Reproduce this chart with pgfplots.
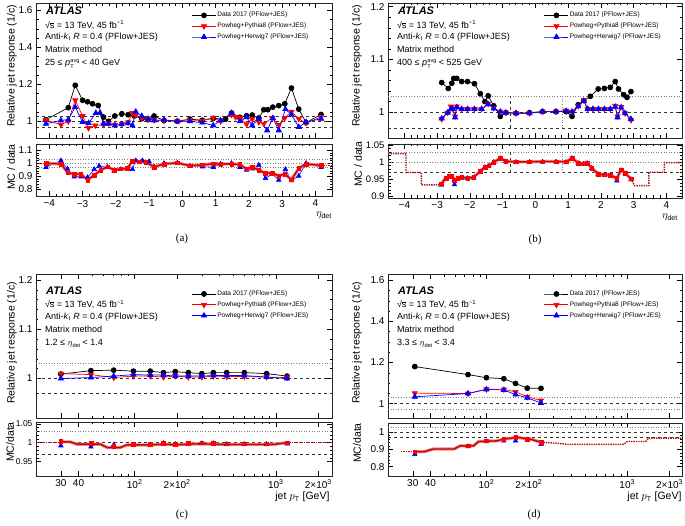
\documentclass[border=0pt]{standalone}
\usepackage{pgfplots}
\pgfplotsset{compat=1.18}
\usepackage{fontspec}
\setmainfont{Liberation Sans}
\newfontfamily\capfont{Liberation Serif}
\definecolor{dred}{rgb}{0.68,0.05,0.05}
\definecolor{lred}{rgb}{1,0.5,0.5}
\newcommand{\smallt}[1]{{\fontsize{5.5}{6}\selectfont #1}}
\newcommand{\ptavg}{\textit{p}\kern0.3pt\rlap{\raisebox{-2.3pt}{\smallt{T}}}\raisebox{3.7pt}{\smallt{avg}}}
\newcommand{\etadet}{$\eta$\raisebox{-1.8pt}{\smallt{det}}}
\newcommand{\sqrts}{√\kern-0.3pt\vbox{\hrule height 0.45pt\kern0.5pt\hbox{s}}}
\tikzset{
  ref1/.style={gray, dotted, line width=0.6pt},
  ref0/.style={black!80, dashed, line width=0.5pt},
}
\pgfplotsset{
  atl/.style={scale only axis, anchor=south west, tick align=inside,
    major tick length=5pt, minor tick length=2.5pt,
    every tick/.style={black, line width=0.4pt},
    axis line style={line width=0.6pt, black!85},
    tick label style={font=\fontsize{10}{12}\selectfont},
    /pgf/number format/assume math mode=true},
  leg/.style={legend style={at={#1}, anchor=north west, draw=none, fill=none,
    font=\fontsize{6.5}{7.5}\selectfont, row sep=2.6pt, nodes={inner sep=1pt}},
    legend cell align=left,
    legend image code/.code={\draw[mark repeat=2,mark phase=2,##1] plot coordinates {(0pt,0pt) (12pt,0pt) (24pt,0pt)};}},
  dat/.style={black, line width=0.7pt, mark=*, mark size=2.5pt},
  pyt/.style={red, line width=0.7pt, mark=triangle*, mark size=3pt, mark options={rotate=180}},
  her/.style={blue, line width=0.7pt, mark=triangle*, mark size=3pt},
  rpy/.style={red, only marks, mark=square*, mark size=1.8pt, forget plot},
  rhe/.style={blue, line width=0.6pt, mark=triangle*, mark size=2.6pt, forget plot},
  band/.style={lred, line width=3.2pt, forget plot},
  cal/.style={dred, line width=1.4pt, forget plot},
  calext/.style={dred, line width=1.4pt, densely dotted, forget plot},
}
\begin{document}
\begin{tikzpicture}
\path[use as bounding box] (0,0) rectangle (685pt,525pt);
% ================= (a) main
\begin{axis}[atl, leg={(0.515,0.955)}, at={(36pt,387pt)}, width=296pt, height=135pt,
  xmin=-4.4, xmax=4.5, ymin=0.91, ymax=1.64, xtick={-4,...,4}, xticklabels={},
  minor x tick num=4, ytick={1,1.2,1.4,1.6}, minor y tick num=3]
\draw[ref0] (axis cs:-4.4,1.03) -- (axis cs:4.5,1.03);
\draw[ref0] (axis cs:-4.4,1) -- (axis cs:4.5,1);
\draw[ref0] (axis cs:-4.4,0.97) -- (axis cs:4.5,0.97);
\addplot[dat] table {
-4.10 1.009
-3.43 1.074
-3.22 1.195
-3.00 1.114
-2.85 1.106
-2.70 1.095
-2.53 1.086
-2.37 1.023
-2.22 1.000
-2.03 1.029
-1.82 1.041
-1.63 1.036
-1.45 1.030
-1.22 1.014
-1.03 1.009
-0.85 1.029
-0.55 1.004
-0.15 1.000
0.23 1.012
0.60 1.006
0.93 1.016
1.30 1.012
1.48 1.045
1.73 1.022
1.93 1.030
2.10 1.034
2.30 1.018
2.45 1.063
2.57 1.063
2.72 1.077
2.90 1.085
3.08 1.095
3.28 1.180
3.50 1.066
3.72 0.993
4.17 1.037
};
\addlegendentry{Data 2017 (PFlow+JES)}
\addplot[pyt] table {
-4.10 1.007
-3.65 0.982
-3.43 1.000
-3.22 1.114
-3.00 1.029
-2.82 0.964
-2.62 0.978
-2.37 0.982
-2.22 0.990
-2.03 0.982
-1.82 0.987
-1.63 0.995
-1.50 1.045
-1.40 1.032
-1.22 1.018
-1.03 1.011
-0.85 1.008
-0.55 1.004
-0.15 1.004
0.23 1.008
0.60 1.004
0.93 1.020
1.15 1.000
1.48 1.036
1.60 1.023
1.73 1.018
1.93 0.984
2.10 1.014
2.30 0.996
2.45 0.987
2.70 1.018
2.90 0.982
3.08 1.018
3.28 1.052
3.50 1.014
3.72 0.991
4.17 1.023
};
\addlegendentry{Powheg+Pythia8 (PFlow+JES)}
\addplot[her] table {
-4.10 0.987
-3.65 1.005
-3.43 1.009
-3.22 1.077
-3.00 0.996
-2.82 0.991
-2.60 1.045
-2.48 1.045
-2.37 0.987
-2.22 0.987
-2.03 0.978
-1.82 0.984
-1.63 0.990
-1.50 0.978
-1.40 1.052
-1.22 1.029
-1.03 1.014
-0.85 1.005
-0.55 1.008
-0.15 1.001
0.23 1.000
0.60 0.993
0.93 0.978
1.15 1.005
1.48 1.045
1.73 1.000
1.93 1.022
2.10 0.978
2.30 1.014
2.55 0.951
2.72 1.018
2.90 0.951
3.10 1.066
3.28 1.036
3.50 0.969
3.72 0.996
4.17 1.014
};
\addlegendentry{Powheg+Herwig7 (PFlow+JES)}
\end{axis}
% ================= (a) ratio
\begin{axis}[atl, at={(36pt,328.5pt)}, width=296pt, height=52.5pt,
  xmin=-4.4, xmax=4.5, ymin=0.745, ymax=1.148, xtick={-4,...,4},
  xticklabels={−4,−3,−2,−1,0,1,2,3,4}, minor x tick num=4,
  ytick={0.8,0.9,1,1.1}, minor y tick num=4]
\draw[ref1] (axis cs:-4.4,1.03) -- (axis cs:4.5,1.03);
\draw[ref1] (axis cs:-4.4,1) -- (axis cs:4.5,1);
\draw[ref1] (axis cs:-4.4,0.97) -- (axis cs:4.5,0.97);
\addplot[rhe] table {
-4.10 0.970
-3.65 1.021
-3.45 0.957
-3.25 0.897
-3.05 0.897
-2.85 0.892
-2.65 0.954
-2.50 0.979
-2.25 0.974
-2.05 0.943
-1.85 0.954
-1.65 0.957
-1.50 0.954
-1.40 1.021
-1.20 1.021
-1.00 1.013
-0.85 0.974
-0.55 1.000
-0.15 1.003
0.23 0.979
0.60 0.974
0.93 0.970
1.15 0.995
1.48 1.000
1.73 0.970
1.93 0.949
2.10 0.957
2.30 0.987
2.50 0.885
2.70 0.918
2.90 0.872
3.10 0.954
3.28 0.867
3.50 0.903
3.72 1.000
4.17 0.970
};
\addplot[calext] coordinates {(-4.4,0.998) (-4.10,0.998)};
\addplot[calext] coordinates {(4.17,0.984) (4.5,0.984)};
\pgfplotstableread{
x y
-4.10 1.000
-3.65 0.995
-3.45 0.929
-3.25 0.918
-3.05 0.917
-2.85 0.872
-2.65 0.910
-2.45 0.948
-2.25 0.974
-2.05 0.948
-1.85 0.957
-1.65 0.961
-1.50 1.017
-1.30 1.013
-1.10 1.009
-0.85 0.972
-0.55 0.995
-0.15 1.003
0.23 0.981
0.60 0.988
0.93 0.997
1.15 0.995
1.48 0.995
1.73 0.991
1.93 0.957
2.10 0.970
2.30 0.948
2.50 0.922
2.70 0.926
2.90 0.903
3.08 0.918
3.28 0.874
3.50 0.961
3.72 0.995
4.17 0.983
}\ratioA
\addplot[band] table {\ratioA};
\addplot[cal] table {\ratioA};
\addplot[rpy] table {\ratioA};
\end{axis}
% ================= (b) main
\begin{axis}[atl, leg={(0.52,0.955)}, at={(388pt,387pt)}, width=294pt, height=135pt,
  xmin=-4.5, xmax=4.48, ymin=0.951, ymax=1.207, xtick={-4,...,4}, xticklabels={},
  minor x tick num=4, ytick={1,1.1,1.2}, minor y tick num=4]
\draw[ref1] (axis cs:-4.5,1.03) -- (axis cs:4.5,1.03);
\draw[ref0] (axis cs:-4.5,1) -- (axis cs:4.5,1);
\draw[ref0] (axis cs:-4.5,0.97) -- (axis cs:4.5,0.97);
\draw[ref0] (axis cs:-0.78,0.97) -- (axis cs:-0.78,1.03);
\draw[ref1] (axis cs:0.82,0.97) -- (axis cs:0.82,1.03);
\addplot[dat] table {
-2.86 1.056
-2.66 1.045
-2.55 1.055
-2.49 1.064
-2.40 1.064
-2.25 1.058
-2.07 1.058
-1.86 1.054
-1.68 1.035
-1.54 1.020
-1.44 1.031
-1.27 1.012
-1.07 0.992
-0.90 0.999
-0.59 0.998
-0.18 0.999
0.22 1.001
0.63 1.001
0.94 1.001
1.12 0.992
1.31 1.014
1.48 1.022
1.68 1.030
1.92 1.044
2.11 1.045
2.29 1.047
2.44 1.058
2.54 1.044
2.70 1.033
2.80 1.028
2.92 1.039
};
\addlegendentry{Data 2017 (PFlow+JES)}
\addplot[pyt] table {
-2.86 0.987
-2.68 0.999
-2.58 1.011
-2.52 1.006
-2.45 0.992
-2.40 1.011
-2.25 1.006
-2.07 1.006
-1.86 1.006
-1.64 1.006
-1.44 1.016
-1.27 1.008
-1.07 1.001
-0.90 0.999
-0.59 0.998
-0.18 0.998
0.22 1.001
0.63 1.001
0.94 1.003
1.12 1.001
1.31 1.012
1.48 1.023
1.60 1.006
1.76 1.006
1.93 1.006
2.11 1.006
2.29 1.006
2.44 1.012
2.51 0.992
2.62 1.010
2.74 0.998
2.92 0.985
};
\addlegendentry{Powheg+Pythia8 (PFlow+JES)}
\addplot[her] table {
-2.86 0.988
-2.68 0.999
-2.58 1.006
-2.52 1.006
-2.45 0.990
-2.40 1.009
-2.25 1.006
-2.07 1.006
-1.86 1.006
-1.64 1.006
-1.44 1.015
-1.27 1.007
-1.07 1.001
-0.90 0.999
-0.59 0.998
-0.18 0.998
0.22 1.001
0.63 1.001
0.94 1.002
1.12 1.001
1.31 1.011
1.48 1.021
1.60 1.006
1.76 1.006
1.93 1.006
2.11 1.006
2.29 1.006
2.44 1.010
2.51 0.990
2.62 1.009
2.74 0.998
2.92 0.987
};
\addlegendentry{Powheg+Herwig7 (PFlow+JES)}
\end{axis}
% ================= (b) ratio
\begin{axis}[atl, at={(388pt,327pt)}, width=294pt, height=54pt,
  xmin=-4.5, xmax=4.48, ymin=0.896, ymax=1.053, xtick={-4,...,4},
  xticklabels={−4,−3,−2,−1,0,1,2,3,4}, minor x tick num=4,
  ytick={0.9,0.95,1,1.05}, minor y tick num=4,
  yticklabel style={font=\fontsize{9.5}{11}\selectfont}]
\draw[ref1] (axis cs:-4.5,1.03) -- (axis cs:4.5,1.03);
\draw[ref1] (axis cs:-4.5,1) -- (axis cs:4.5,1);
\draw[ref0] (axis cs:-4.5,0.97) -- (axis cs:4.5,0.97);
\draw[ref0] (axis cs:-0.78,0.97) -- (axis cs:-0.78,1.03);
\draw[ref1] (axis cs:0.82,0.97) -- (axis cs:0.82,1.03);
\addplot[calext] coordinates {(-4.5,1.025) (-3.95,1.025) (-3.95,0.970) (-3.48,0.970) (-3.48,0.934) (-3.0,0.934) (-2.88,0.937)};
\addplot[calext] coordinates {(2.92,0.952) (3.03,0.932) (3.47,0.932) (3.47,0.971) (3.94,0.971) (3.94,0.999) (4.5,0.999)};
\addplot[rhe] table {
-2.88 0.934
-2.73 0.952
-2.63 0.957
-2.55 0.957
-2.47 0.935
-2.37 0.952
-2.25 0.955
-2.07 0.953
-1.88 0.955
-1.68 0.972
-1.54 0.985
-1.42 0.989
-1.27 1.000
-1.07 1.011
-0.90 1.002
-0.59 1.000
-0.18 1.000
0.22 1.001
0.63 1.001
0.94 1.000
1.12 1.011
1.31 0.997
1.48 0.995
1.58 0.997
1.72 0.982
1.92 0.965
2.11 0.963
2.29 0.962
2.49 0.946
2.62 0.976
2.74 0.967
2.92 0.950
};
\pgfplotstableread{
x y
-2.88 0.937
-2.73 0.954
-2.63 0.959
-2.55 0.959
-2.47 0.948
-2.37 0.954
-2.25 0.956
-2.07 0.954
-1.88 0.957
-1.68 0.974
-1.54 0.986
-1.42 0.990
-1.27 1.000
-1.07 1.012
-0.90 1.003
-0.59 1.001
-0.18 1.001
0.22 1.002
0.63 1.002
0.94 1.001
1.12 1.012
1.31 0.998
1.48 0.996
1.58 0.998
1.72 0.983
1.92 0.966
2.11 0.964
2.29 0.963
2.49 0.953
2.62 0.978
2.74 0.968
2.92 0.952
}\ratioB
\addplot[band] table {\ratioB};
\addplot[cal] table {\ratioB};
\addplot[rpy] table {\ratioB};
\end{axis}
% ================= (c) main
\begin{axis}[atl, leg={(0.515,0.905)}, at={(36pt,107pt)}, width=296pt, height=144pt,
  xmode=log, xmin=20, xmax=2500, ymin=0.92, ymax=1.212,
  xtick={30,40,100,200,1000,2000}, xticklabels={},
  minor xtick={50,60,70,80,90,300,400,500,600,700,800,900},
  ytick={1,1.1,1.2}, minor y tick num=4]
\draw[ref1] (axis cs:20,1.03) -- (axis cs:2500,1.03);
\draw[ref0] (axis cs:20,1) -- (axis cs:2500,1);
\draw[ref0] (axis cs:20,0.97) -- (axis cs:2500,0.97);
\addplot[dat] table {
30 1.009
49 1.016
71 1.017
98 1.015
129 1.015
160 1.012
194 1.014
240 1.012
299 1.010
361 1.012
449 1.012
598 1.012
860 1.010
1200 1.005
};
\addlegendentry{Data 2017 (PFlow+JES)}
\addplot[pyt] table {
30 1.010
49 1.008
71 1.002
98 1.005
129 1.005
160 1.003
194 1.005
240 1.003
299 1.003
361 1.005
449 1.004
598 1.004
860 1.003
1200 1.002
};
\addlegendentry{Powheg+Pythia8 (PFlow+JES)}
\addplot[her] table {
30 1.000
49 1.002
71 1.005
98 1.008
129 1.007
160 1.007
194 1.005
240 1.005
299 1.005
361 1.006
449 1.006
598 1.006
860 1.003
1200 1.000
};
\addlegendentry{Powheg+Herwig7 (PFlow+JES)}
\end{axis}
% ================= (c) ratio
\begin{axis}[atl, at={(36pt,49pt)}, width=296pt, height=54pt,
  xmode=log, xmin=20, xmax=2500, ymin=0.912, ymax=1.0545,
  xtick={30,40,100,200,1000,2000},
  xticklabels={30,40,10\textsuperscript{2},2×10\textsuperscript{2},10\textsuperscript{3},2×10\textsuperscript{3}},
  minor xtick={50,60,70,80,90,300,400,500,600,700,800,900},
  ytick={0.95,1,1.05}, minor y tick num=4,
  yticklabel style={font=\fontsize{8.5}{10}\selectfont}]
\draw[ref1] (axis cs:20,1.03) -- (axis cs:2500,1.03);
\draw[ref0] (axis cs:20,1) -- (axis cs:2500,1);
\draw[ref0] (axis cs:20,0.97) -- (axis cs:2500,0.97);
\addplot[calext] coordinates {(20,1.0) (30,1.0)};
\addplot[calext] coordinates {(1200,1.0) (2500,1.0)};
\addplot[rhe, only marks] table {
30 0.992
49 0.989
71 0.994
98 0.994
129 0.994
160 0.998
194 0.996
240 0.996
299 0.998
361 0.998
449 0.996
598 0.996
860 0.996
1200 0.997
};
\addplot[band] coordinates {(30,1.002) (35,1.002) (39,0.996) (57,0.996) (64,0.987) (79,0.987) (88,0.994) (100,0.994) (130,0.994) (160,0.996) (194,0.994) (240,0.996) (300,0.997) (360,0.996) (450,0.995) (600,0.995) (860,0.995) (1000,0.996) (1200,1.0)};
\addplot[cal] coordinates {(30,1.002) (35,1.002) (39,0.996) (57,0.996) (64,0.987) (79,0.987) (88,0.994) (100,0.994) (130,0.994) (160,0.996) (194,0.994) (240,0.996) (300,0.997) (360,0.996) (450,0.995) (600,0.995) (860,0.995) (1000,0.996) (1200,1.0)};
\addplot[rpy] table {
30 1.004
49 0.998
71 0.991
98 0.996
129 0.996
160 0.998
194 0.996
240 0.998
299 1.000
361 0.998
449 0.997
598 0.997
860 0.997
1200 1.000
};
\end{axis}
% ================= (d) main
\begin{axis}[atl, leg={(0.52,0.905)}, at={(388pt,107pt)}, width=294pt, height=144pt,
  xmode=log, xmin=20, xmax=2450, ymin=0.93, ymax=1.63,
  xtick={30,40,100,200,1000,2000}, xticklabels={},
  minor xtick={50,60,70,80,90,300,400,500,600,700,800,900},
  ytick={1,1.2,1.4,1.6}, minor y tick num=3]
\draw[ref1] (axis cs:20,1.03) -- (axis cs:2500,1.03);
\draw[ref0] (axis cs:20,1) -- (axis cs:2500,1);
\draw[ref1] (axis cs:20,0.97) -- (axis cs:2500,0.97);
\addplot[dat] table {
31 1.180
74 1.141
100 1.126
133 1.121
161 1.098
195 1.075
244 1.074
};
\addlegendentry{Data 2017 (PFlow+JES)}
\addplot[pyt] table {
31 1.051
74 1.049
100 1.070
133 1.069
161 1.057
195 1.033
244 1.015
};
\addlegendentry{Powheg+Pythia8 (PFlow+JES)}
\addplot[her] table {
31 1.033
74 1.049
100 1.069
133 1.066
161 1.044
195 1.028
244 1.003
};
\addlegendentry{Powheg+Herwig7 (PFlow+JES)}
\end{axis}
% ================= (d) ratio
\begin{axis}[atl, at={(388pt,49pt)}, width=294pt, height=53pt,
  xmode=log, xmin=20, xmax=2450, ymin=0.746, ymax=1.052,
  xtick={30,40,100,200,1000,2000},
  xticklabels={30,40,10\textsuperscript{2},2×10\textsuperscript{2},10\textsuperscript{3},2×10\textsuperscript{3}},
  minor xtick={50,60,70,80,90,300,400,500,600,700,800,900},
  ytick={0.8,0.9,1}, minor y tick num=4]
\draw[ref1] (axis cs:20,1.03) -- (axis cs:2500,1.03);
\draw[ref0] (axis cs:20,1) -- (axis cs:2500,1);
\draw[ref0] (axis cs:20,0.97) -- (axis cs:2500,0.97);
\addplot[calext] coordinates {(24.7,0.886) (31,0.886)};
\addplot[calext] coordinates {(244,0.941) (318,0.935) (374,0.929) (946,0.929) (1000,0.945) (1349,0.945) (1425,0.965) (2450,0.965)};
\addplot[rhe, only marks] table {
31 0.871
74 0.916
100 0.945
133 0.949
161 0.949
195 0.955
244 0.929
};
\addplot[band] coordinates {(31,0.886) (36,0.886) (42,0.902) (59,0.902) (65,0.92) (81,0.92) (88,0.945) (119,0.949) (133,0.959) (165,0.969) (205,0.959) (244,0.941)};
\addplot[cal] coordinates {(31,0.886) (36,0.886) (42,0.902) (59,0.902) (65,0.92) (81,0.92) (88,0.945) (119,0.949) (133,0.959) (165,0.969) (205,0.959) (244,0.941)};
\addplot[rpy] table {
31 0.886
74 0.922
100 0.949
133 0.959
161 0.969
195 0.959
244 0.941
};
\end{axis}
% ================= labels
\begin{scope}[font=\fontsize{10.5}{12}\selectfont]
\node[rotate=90] at (12pt,459pt) {Relative jet response (1/c)};
\node[rotate=90] at (357pt,459pt) {Relative jet response (1/c)};
\node[rotate=90] at (12pt,182pt) {Relative jet response (1/c)};
\node[rotate=90] at (357pt,182pt) {Relative jet response (1/c)};
\node[rotate=90] at (11pt,358pt) {MC / data};
\node[rotate=90] at (358pt,361pt) {MC / data};
\node[rotate=90] at (10pt,83pt) {MC/data};
\node[rotate=90] at (357pt,82pt) {MC/data};
\end{scope}
\node[anchor=east, inner sep=1pt, font=\fontsize{11}{13}\selectfont] at (333pt,309.5pt) {$\eta_{\mbox{\scriptsize det}}$};
\node[anchor=east, inner sep=1pt, font=\fontsize{11}{13}\selectfont] at (679pt,307.5pt) {$\eta_{\mbox{\scriptsize det}}$};
\node[anchor=east, font=\fontsize{10.5}{12}\selectfont] at (333pt,28pt) {jet $p_{\mbox{\scriptsize T}}$ [GeV]};
\node[anchor=east, font=\fontsize{10.5}{12}\selectfont] at (685pt,28pt) {jet $p_{\mbox{\scriptsize T}}$ [GeV]};
% text blocks
\foreach \x/\y/\lastline in {46/513/{25 ≤ \ptavg{} < 40 GeV}, 398/513/{400 ≤ \ptavg{} < 525 GeV}, 46/233.5/{1.2 ≤ \etadet{} < 1.4}, 398/233.5/{3.3 ≤ \etadet{} < 3.4}} {
  \node[anchor=west, inner sep=0pt, font=\fontsize{11}{13}\selectfont\bfseries\itshape] at (\x pt,\y pt+0.8pt) {ATLAS};
  \begin{scope}[font=\fontsize{9}{11}\selectfont]
  \node[anchor=west, inner sep=0pt] at (\x pt-1pt,\y pt-13pt) {\sqrts{} = 13 TeV, 45 fb\textsuperscript{−1}};
  \node[anchor=west, inner sep=0pt] at (\x pt-1pt,\y pt-25.5pt) {Anti-\textit{k}\textsubscript{t} \textit{R} = 0.4 (PFlow+JES)};
  \node[anchor=west, inner sep=0pt] at (\x pt-1pt,\y pt-37.3pt) {Matrix method};
  \node[anchor=west, inner sep=0pt] at (\x pt-1pt,\y pt-51.8pt) {\lastline};
  \end{scope}
}
\begin{scope}[font=\capfont\fontsize{11}{13}\selectfont]
\node at (182pt,286pt) {(a)};
\node at (535pt,285pt) {(b)};
\node at (182pt,10pt) {(c)};
\node at (534pt,10pt) {(d)};
\end{scope}
\end{tikzpicture}
\end{document}
